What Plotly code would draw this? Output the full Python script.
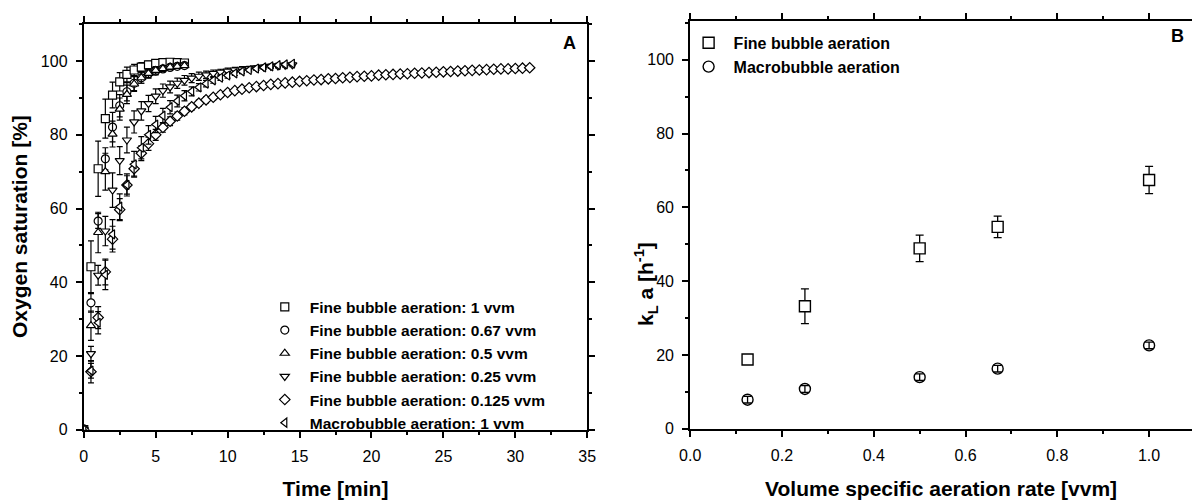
import plotly.graph_objects as go

FONT = "Liberation Sans, Arial, sans-serif"

# ---------------- Panel A data (time in min, O2 saturation in %) ----------------
t_short = [0, 0.5, 1, 1.5, 2, 2.5, 3, 3.5, 4, 4.5, 5, 5.5, 6, 6.5, 7]
t_mid = [0, 0.5, 1, 1.5, 2, 2.5, 3, 3.5, 4, 4.5, 5, 5.5, 6, 6.5, 7,
         7.5, 8, 8.5, 9, 9.5, 10, 10.5, 11, 11.5, 12, 12.5, 13, 13.5, 14, 14.5]
t_long = [0, 0.5, 1, 1.5, 2, 2.5, 3, 3.5, 4, 4.5, 5, 5.5, 6, 6.5, 7, 7.5,
          8, 8.5, 9, 9.5, 10, 10.5, 11, 11.5, 12, 12.5, 13, 13.5, 14, 14.5, 15, 15.5,
          16, 16.5, 17, 17.5, 18, 18.5, 19, 19.5, 20, 20.5, 21, 21.5, 22, 22.5, 23, 23.5,
          24, 24.5, 25, 25.5, 26, 26.5, 27, 27.5, 28, 28.5, 29, 29.5, 30, 30.5, 31]

fb_1 = [0, 44.2, 70.8, 84.4, 90.8, 94.4, 96.4, 97.6, 98.4, 99.0, 99.4, 99.6, 99.7, 99.6, 99.5]
fb_1_err = [0, 7, 7.5, 5.3, 3.5, 2.5, 2, 1.5, 1.2, 1, 0.8, 0.7, 0.6, 0.5, 0.5]

fb_067 = [0, 34.4, 56.6, 73.5, 82.1, 87.9, 91.7, 94.0, 95.5, 96.6, 97.3, 97.9, 98.3, 98.6, 98.8]
fb_067_err = [0, 2.5, 2, 3, 4, 3, 2.5, 2, 1.5, 1.2, 1, 0.8, 0.7, 0.6, 0.5]

fb_05 = [0, 28.2, 53.5, 70.0, 80.2, 87.0, 91.0, 93.8, 95.5, 96.7, 97.5, 98.0, 98.4, 98.6, 98.8]
fb_05_err = [0, 4, 5.5, 5, 3.5, 3, 2.5, 2, 1.5, 1.2, 1, 0.8, 0.7, 0.6, 0.5]

fb_025 = [0, 20.6, 41.9, 53.9, 65.0, 73.0, 78.6, 83.5, 86.5, 88.5, 90.5, 92.0, 93.0, 94.0, 94.8,
          95.4, 95.9, 96.3, 96.7, 97.0, 97.3, 97.6, 97.8, 98.0, 98.2, 98.4, 98.6, 98.7, 98.9, 99.0]
fb_025_err = [0, 2, 2.7, 4, 4.7, 3.8, 3.5, 3, 2.5, 2.2, 2, 1.8, 1.6, 1.4, 1.3,
              1.2, 1.1, 1, 0.9, 0.8, 0.8, 0.7, 0.7, 0.6, 0.6, 0.5, 0.5, 0.5, 0.5, 0.5]

fb_0125 = [0, 15.7, 30.4, 42.8, 51.7, 59.7, 66.4, 70.8, 75.0, 77.6, 80.0, 82.0, 83.7, 85.1, 86.4, 87.6,
           88.6, 89.5, 90.2, 90.9, 91.5, 92.0, 92.4, 92.8, 93.1, 93.4, 93.7, 93.9, 94.1, 94.3, 94.5, 94.7,
           94.9, 95.0, 95.2, 95.3, 95.5, 95.6, 95.8, 95.9, 96.0, 96.2, 96.3, 96.4, 96.5, 96.6, 96.7, 96.8,
           96.9, 97.0, 97.1, 97.2, 97.3, 97.4, 97.5, 97.6, 97.7, 97.8, 97.9, 97.9, 98.0, 98.1, 98.2]
fb_0125_err = [0, 3, 3, 3.5, 3.5, 3, 2.5, 2, 2, 1.8, 1.5, 1.3, 1.2, 1.1, 1, 0.9,
               0.8, 0.8, 0.7, 0.7, 0.6, 0.6, 0.6, 0.5, 0.5, 0.5, 0.5, 0.5, 0.5, 0.5, 0.5, 0.5,
               0.5, 0.5, 0.5, 0.5, 0.5, 0.5, 0.5, 0.5, 0.5, 0.5, 0.5, 0.5, 0.5, 0.5, 0.5, 0.5,
               0.5, 0.5, 0.5, 0.5, 0.5, 0.5, 0.5, 0.5, 0.5, 0.5, 0.5, 0.5, 0.5, 0.5, 0.5]

mb_1 = [0, 16.0, 29.0, 42.0, 53.0, 60.5, 66.4, 72.0, 76.5, 80.0, 82.8, 85.2, 87.5, 89.2, 90.6,
        91.8, 92.9, 93.9, 94.8, 95.5, 96.1, 96.7, 97.2, 97.6, 98.0, 98.3, 98.6, 98.9, 99.1, 99.3]
mb_1_err = [0, 2, 3, 4, 4, 3.5, 3, 3.5, 3, 2.5, 2.2, 2, 1.8, 1.6, 1.4,
            1.2, 1, 0.9, 0.8, 0.7, 0.7, 0.6, 0.6, 0.5, 0.5, 0.5, 0.5, 0.5, 0.4, 0.4]

names_A = ["Fine bubble aeration: 1 vvm", "Fine bubble aeration: 0.67 vvm",
           "Fine bubble aeration: 0.5 vvm", "Fine bubble aeration: 0.25 vvm",
           "Fine bubble aeration: 0.125 vvm", "Macrobubble aeration: 1 vvm"]

# ---------------- Panel B data ----------------
vvm = [0.125, 0.25, 0.5, 0.67, 1.0]
kla_fine = [18.8, 33.2, 48.9, 54.7, 67.4]
kla_fine_err = [0.6, 4.7, 3.6, 2.9, 3.7]
kla_macro = [7.9, 10.8, 14.0, 16.3, 22.6]
kla_macro_err = [0.9, 0.9, 0.9, 0.9, 0.9]
names_B = ["Fine bubble aeration", "Macrobubble aeration"]

fig = go.Figure()

series_A = [
    (t_short, fb_1, fb_1_err, "square"),
    (t_short, fb_067, fb_067_err, "circle"),
    (t_short, fb_05, fb_05_err, "triangle-up"),
    (t_mid, fb_025, fb_025_err, "triangle-down"),
    (t_long, fb_0125, fb_0125_err, "diamond"),
    (t_mid, mb_1, mb_1_err, "triangle-left"),
]
for name, (t, v, e, sym) in zip(names_A, series_A):
    fig.add_trace(go.Scatter(
        x=t, y=v, mode="markers", name=name, xaxis="x", yaxis="y", legend="legend",
        marker=dict(symbol=sym, size=8, color="white", line=dict(color="black", width=1.2)),
        error_y=dict(type="data", array=e, visible=True, color="black", thickness=1.2, width=3),
    ))

fig.add_trace(go.Scatter(
    x=vvm, y=kla_fine, mode="markers", name=names_B[0], xaxis="x2", yaxis="y2", legend="legend2",
    marker=dict(symbol="square", size=11, color="white", line=dict(color="black", width=1.4)),
    error_y=dict(type="data", array=kla_fine_err, visible=True, color="black", thickness=1.3, width=4),
))
fig.add_trace(go.Scatter(
    x=vvm, y=kla_macro, mode="markers", name=names_B[1], xaxis="x2", yaxis="y2", legend="legend2",
    marker=dict(symbol="circle-open", size=11, color="black", line=dict(color="black", width=1.4)),
    error_y=dict(type="data", array=kla_macro_err, visible=True, color="black", thickness=1.3, width=4),
))

W, H = 1201, 500
def px_x(p):
    return p / W
def px_y(p):
    return 1 - p / H

axis_base = dict(
    showline=True, linewidth=2, linecolor="black", mirror="ticks",
    ticks="outside", ticklen=6, tickwidth=2, tickcolor="black",
    showgrid=False, zeroline=False,
    tickfont=dict(family=FONT, size=16, color="black"),
)
title_font = dict(family=FONT, size=21, color="black", weight="bold")

fig.update_layout(
    width=W, height=H,
    margin=dict(l=0, r=0, t=0, b=0),
    paper_bgcolor="white", plot_bgcolor="white",
    font=dict(family=FONT, color="black"),
    xaxis=dict(axis_base, domain=[px_x(74), px_x(586)], range=[0, 35], dtick=5, tick0=0,
               ticklabelstandoff=5,
               minor=dict(ticks="outside", ticklen=3, tickwidth=2, dtick=2.5, tickcolor="black"),
               title=dict(text="Time [min]", font=title_font, standoff=18), anchor="y"),
    yaxis=dict(axis_base, domain=[px_y(437.5), px_y(24)], range=[0, 110.2], dtick=20, tick0=0,
               ticklabelstandoff=5,
               minor=dict(ticks="outside", ticklen=3, tickwidth=2, dtick=10, tickcolor="black"),
               title=dict(text="Oxygen saturation [%]", font=title_font, standoff=8), anchor="x"),
    xaxis2=dict(axis_base, domain=[px_x(690.7), 1.0], range=[0, 1.0935], dtick=0.2, tick0=0,
                tickformat=".1f", ticklabelstandoff=5,
                minor=dict(ticks="outside", ticklen=3, tickwidth=2, dtick=0.1, tickcolor="black"),
                title=dict(text="Volume specific aeration rate [vvm]", font=title_font, standoff=18),
                anchor="y2"),
    yaxis2=dict(axis_base, mirror=False, domain=[px_y(436.7), px_y(21.7)], range=[0, 110.4],
                dtick=20, tick0=0, ticklabelstandoff=5,
                minor=dict(ticks="outside", ticklen=3, tickwidth=2, dtick=10, tickcolor="black"),
                anchor="x2"),
    legend=dict(x=px_x(253), y=px_y(295.7), xanchor="left", yanchor="top",
                bgcolor="rgba(0,0,0,0)", itemwidth=40,
                font=dict(family=FONT, size=15.5, color="black", weight="bold")),
    legend2=dict(x=px_x(684), y=px_y(26.4), xanchor="left", yanchor="top",
                 bgcolor="rgba(0,0,0,0)", itemwidth=40,
                 font=dict(family=FONT, size=16, color="black", weight="bold")),
    annotations=[
        dict(text="A", x=px_x(568), y=px_y(44), xref="paper", yref="paper",
             showarrow=False, xanchor="center", yanchor="middle",
             font=dict(family=FONT, size=18, color="black", weight="bold")),
        dict(text="B", x=px_x(1186.7), y=px_y(36.3), xref="paper", yref="paper",
             showarrow=False, xanchor="center", yanchor="middle",
             font=dict(family=FONT, size=18, color="black", weight="bold")),
        dict(text="k<sub>L</sub> a [h<sup>-1</sup>]", x=px_x(646), y=px_y(289),
             xref="paper", yref="paper", showarrow=False, textangle=-90,
             xanchor="center", yanchor="middle", font=title_font),
    ],
)

fig.write_html("out.html")
